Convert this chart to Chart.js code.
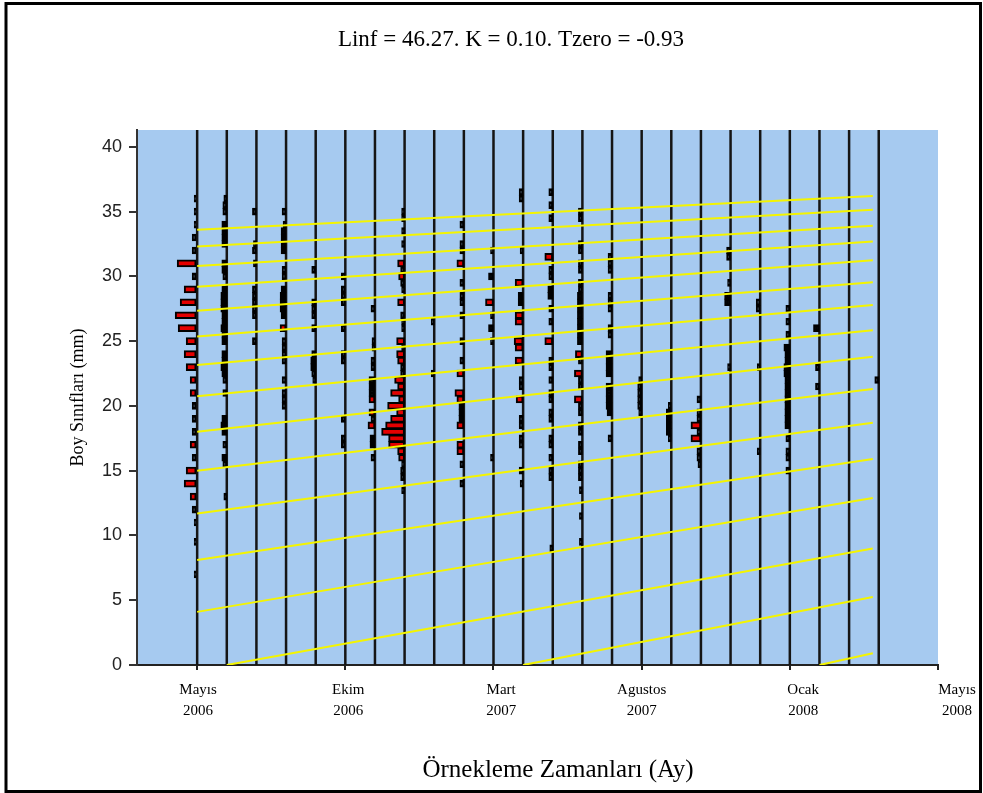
<!DOCTYPE html>
<html>
<head>
<meta charset="utf-8">
<script src="https://cdn.jsdelivr.net/npm/chart.js@4.4.1/dist/chart.umd.min.js"></script>
<style>
  html, body { margin: 0; padding: 0; background: #fff; }
</style>
</head>
<body>
<canvas id="chart" width="983" height="793"></canvas>
<script>
// örnekleme ayları: Mayıs 2006 = 0 ... Nisan 2008 = 23
const sampleMonths = [0, 1, 2, 3, 4, 5, 6, 7, 8, 9, 10, 11, 12, 13, 14, 15, 16, 17, 18, 19, 20, 21, 22, 23];

// [boy sınıfı (mm), skor] ; skor > 0 kırmızı, skor < 0 siyah
const may06 = [[36,-0.15],[35,-0.15],[34,-0.15],[33,-0.25],[32,-0.25],[31,1.0],[30,-0.25],[29,0.65],[28,0.85],[27,1.1],[26,0.95],[25,0.55],[24,0.65],[23,0.55],[22,0.35],[21,0.35],[20,-0.25],[19,-0.25],[18,-0.25],[17,0.35],[16,-0.25],[15,0.55],[14,0.65],[13,0.35],[12,-0.25],[11,-0.15],[9.5,-0.15],[7,-0.15]];
const jun06 = [[36,-0.15],[35.5,-0.2],[35,-0.2],[34,-0.25],[33.5,-0.25],[33,-0.25],[32.5,-0.25],[31,-0.25],[30.5,-0.25],[30,-0.2],[29,-0.25],[28.5,-0.3],[28,-0.3],[27.5,-0.3],[27,-0.25],[26.5,-0.25],[26,-0.3],[25.5,-0.25],[25,-0.25],[24,-0.25],[23.5,-0.25],[23,-0.3],[22.5,-0.25],[22,-0.2],[21,-0.2],[19,-0.25],[18.5,-0.3],[18,-0.25],[17,-0.2],[16,-0.25],[15.5,-0.2],[13,-0.15]];
const jul06 = [[35,-0.2],[32.5,-0.15],[32,-0.2],[31,-0.15],[29,-0.2],[28.5,-0.2],[28,-0.2],[27.5,-0.2],[27,-0.2],[25,-0.2]];
const aug06 = [[35,-0.2],[34,-0.15],[33.5,-0.25],[33,-0.25],[32.5,-0.25],[32,-0.25],[30.5,-0.2],[30,-0.2],[29,-0.25],[28.5,-0.3],[28,-0.3],[27.5,-0.3],[27,-0.25],[26,0.3],[25,-0.2],[24.5,-0.2],[24,-0.2],[23.5,-0.2],[22,-0.2],[21,-0.2],[20.5,-0.2],[20,-0.2]];
const sep06 = [[30.5,-0.2],[28,-0.2],[27.5,-0.2],[27,-0.2],[26,-0.2],[24,-0.2],[23.5,-0.25],[23,-0.25],[22.5,-0.2],[22,-0.15]];
const oct06 = [[30,-0.2],[29,-0.2],[28.5,-0.2],[28,-0.2],[26,-0.2],[24,-0.2],[23.5,-0.2],[19,-0.2],[17.5,-0.2],[17,-0.2]];
const nov06 = [[27.5,-0.2],[25,-0.15],[24.5,-0.15],[23.5,-0.2],[23,-0.2],[22,-0.3],[21.5,-0.3],[21,-0.3],[20.5,0.3],[19.5,0.3],[19,-0.2],[18.5,0.35],[17.5,-0.25],[17,-0.25],[16,-0.2]];
const dec06 = [[35,-0.15],[34.5,-0.15],[33.5,-0.15],[32.5,-0.15],[31,0.35],[30.5,-0.2],[30,0.3],[29.5,-0.2],[29,-0.15],[28,0.35],[27,-0.2],[26.5,-0.15],[26,-0.15],[25,0.4],[24.5,-0.15],[24,0.4],[23.5,0.35],[23,-0.2],[22.5,-0.2],[22,0.5],[21.5,0.35],[21,0.7],[20.5,0.3],[20,0.85],[19.5,0.4],[19,0.7],[18.5,0.95],[18,1.15],[17.5,0.8],[17,0.8],[16.5,0.35],[16,0.3],[15.5,-0.15],[15,-0.2],[14.5,-0.2],[13.5,-0.15]];
const jan07 = [[26.5,-0.15],[22.5,-0.15]];
const feb07 = [[34,-0.2],[32.5,-0.2],[32,-0.2],[31,0.35],[29.5,-0.2],[28.5,-0.2],[28,-0.2],[27,-0.2],[25,-0.2],[23.5,-0.2],[22.5,0.35],[21,0.45],[20.5,0.35],[20,-0.25],[19.5,-0.25],[19,-0.25],[18.5,0.35],[17,0.35],[16.5,0.35],[15.5,-0.2],[14,-0.2]];
const mar07 = [[32,-0.15],[30,-0.25],[28,0.4],[27,-0.15],[26,-0.25],[25,-0.15],[16,-0.15]];
const apr07 = [[36.5,-0.2],[36,-0.2],[32,-0.15],[29.5,0.4],[28.5,-0.25],[28,-0.25],[27,0.4],[26.5,0.4],[25,0.45],[24.5,0.4],[23.5,0.4],[22,-0.2],[21.5,-0.2],[20.5,0.35],[19,-0.2],[18.5,-0.2],[17.5,-0.2],[17,-0.2],[15,-0.2],[14,-0.15]];
const may07 = [[36.5,-0.2],[35.5,-0.2],[34.5,-0.2],[31.5,0.4],[30.5,-0.2],[30,-0.2],[29,-0.25],[28.5,-0.25],[27.5,-0.2],[26.5,-0.2],[25,0.4],[23.5,-0.2],[23,-0.2],[22,-0.2],[21,-0.2],[20.5,-0.2],[19.5,-0.2],[19,-0.2],[17.5,-0.2],[17,-0.2],[16,-0.2],[15,-0.2],[14.5,-0.2],[9,-0.15]];
const jun07 = [[35,-0.2],[34.5,-0.2],[32.5,-0.2],[32,-0.2],[31,-0.2],[30.5,-0.2],[29.5,-0.2],[29,-0.2],[28.5,-0.25],[28,-0.25],[27.5,-0.25],[27,-0.25],[26.5,-0.25],[26,-0.25],[25.5,-0.25],[25,-0.25],[24,0.35],[23.5,-0.2],[22.5,0.4],[22,-0.2],[21.5,-0.2],[20.5,0.4],[20,-0.2],[19.5,-0.2],[18.5,-0.2],[18,-0.2],[17,-0.2],[16.5,-0.2],[15.5,-0.2],[15,-0.2],[14.5,-0.2],[13.5,-0.15],[11.5,-0.15],[9.5,-0.15]];
const jul07 = [[31.5,-0.2],[31,-0.2],[30.5,-0.2],[28.5,-0.2],[28,-0.2],[27.5,-0.2],[26,-0.2],[25.5,-0.2],[24,-0.3],[23.5,-0.3],[23,-0.3],[22.5,-0.3],[21.5,-0.3],[21,-0.3],[20.5,-0.3],[20,-0.3],[19.5,-0.25],[17.5,-0.2]];
const aug07 = [[22,-0.15],[21.5,-0.2],[21,-0.2],[20.5,-0.2],[20,-0.2],[19.5,-0.15]];
const sep07 = [[20,-0.15],[19.5,-0.25],[19,-0.25],[18.5,-0.25],[18,-0.25],[17.5,-0.15]];
const oct07 = [[20.5,-0.2],[19.5,-0.2],[19,-0.2],[18.5,0.5],[18,-0.2],[17.5,0.5],[16.5,-0.2],[16,-0.2],[15.5,-0.15]];
const nov07 = [[32,-0.2],[31.5,-0.2],[29.5,-0.15],[28.5,-0.3],[28,-0.3],[23,-0.15]];
const dec07 = [[28,-0.2],[27.5,-0.2],[23,-0.15],[16.5,-0.15]];
const jan08 = [[27.5,-0.2],[26.5,-0.2],[25.5,-0.2],[24.5,-0.3],[24,-0.25],[23.5,-0.25],[23,-0.3],[22.5,-0.3],[22,-0.25],[21.5,-0.25],[21,-0.25],[20.5,-0.25],[20,-0.25],[19.5,-0.25],[19,-0.25],[18.5,-0.25],[17.5,-0.2],[16.5,-0.2],[16,-0.2],[15,-0.2]];
const feb08 = [[26,-0.3],[23,-0.2],[21.5,-0.2]];
const mar08 = [];
const apr08 = [[22,-0.2]];

const samples = [may06, jun06, jul06, aug06, sep06, oct06, nov06, dec06, jan07, feb07, mar07, apr07,
                 may07, jun07, jul07, aug07, sep07, oct07, nov07, dec07, jan08, feb08, mar08, apr08];

// büyüme eğrileri (başlangıç ve bitiş boyları)
const curveStartMonth = [0, 0, 0, 0, 0, 0, 0, 0, 0, 0, 0, 0, 0, 1, 11, 21];
const curveStartLen = [33.6, 32.3, 30.8, 29.2, 27.35, 25.35, 23.15, 20.75, 18.0, 15.0, 11.7, 8.1, 4.1, 0, 0, 0];
const curveEndMonth = 22.8;
const curveEndLen = [36.2, 35.15, 33.9, 32.7, 31.25, 29.55, 27.8, 25.85, 23.8, 21.3, 18.7, 15.9, 12.9, 9.0, 5.25, 0.9];

const yTicks = [0, 5, 10, 15, 20, 25, 30, 35, 40];
const xTickMonths = [0, 5, 10, 15, 20, 25];
const xTickLabels = [['Mayıs', '2006'], ['Ekim', '2006'], ['Mart', '2007'], ['Agustos', '2007'], ['Ocak', '2008'], ['Mayıs', '2008']];

const titleText = 'Linf = 46.27. K = 0.10. Tzero = -0.93';
const xTitleText = 'Örnekleme Zamanları (Ay)';
const yTitleText = 'Boy Sınıfları (mm)';

const xMin = -2.03, xMax = 25, yMax = 41.3;
const barScale = 0.675;   // skor 1 -> ay cinsinden çubuk uzunluğu
const labelShift = [0.03, 0.1, 0.26, 0, 0.45, 0.64];   // etiketlerin tik çizgisine göre kayması (ay)
const serif = '"Liberation Serif", "Times New Roman", serif';

// histogram çubukları
const barData = [];
samples.forEach((rows, i) => {
  const m = sampleMonths[i];
  rows.forEach(([len, s]) => {
    barData.push({ y: len, x: [m - Math.abs(s) * barScale, m], s: s });
  });
});

// örnekleme çizgileri
const sampleLines = [];
sampleMonths.forEach(m => {
  sampleLines.push({ x: m, y: 0 }, { x: m, y: yMax }, { x: m, y: null });
});

// büyüme eğrileri
const growthLines = [];
curveStartLen.forEach((l0, k) => {
  growthLines.push({ x: curveStartMonth[k], y: l0 }, { x: curveEndMonth, y: curveEndLen[k] }, { x: curveEndMonth, y: null });
});

const decor = {
  id: 'decor',
  beforeDraw(chart) {
    const { ctx, chartArea: a } = chart;
    ctx.save();
    ctx.fillStyle = '#fff';
    ctx.fillRect(0, 0, chart.width, chart.height);
    ctx.fillStyle = '#a6caf0';
    ctx.fillRect(a.left, a.top, a.right - a.left, a.bottom - a.top);
    ctx.restore();
  },
  afterDraw(chart) {
    const ctx = chart.ctx;
    const xs = chart.scales.x;
    ctx.save();
    ctx.fillStyle = '#000';
    ctx.textAlign = 'center';
    ctx.textBaseline = 'middle';
    ctx.font = '15px ' + serif;
    xTickMonths.forEach((m, i) => {
      const px = xs.getPixelForValue(m + labelShift[i]);
      ctx.fillText(xTickLabels[i][0], px, 690);
      ctx.fillText(xTickLabels[i][1], px, 711);
    });
    ctx.font = '23px ' + serif;
    ctx.fillText(titleText, 511, 40);
    ctx.font = '25px ' + serif;
    ctx.fillText(xTitleText, 558, 770);
    ctx.strokeStyle = '#000';
    ctx.lineWidth = 3;
    ctx.strokeRect(6, 3.5, 974.5, 788);
    ctx.restore();
  }
};

new Chart(document.getElementById('chart'), {
  type: 'bar',
  data: {
    datasets: [
      {
        type: 'line',
        data: sampleLines,
        borderColor: '#151515',
        borderWidth: 2.5,
        pointRadius: 0,
        order: 3
      },
      {
        type: 'bar',
        indexAxis: 'y',
        data: barData,
        barThickness: 7,
        borderWidth: 2,
        borderColor: '#000',
        borderSkipped: false,
        backgroundColor: c => (c.raw && c.raw.s > 0 ? '#e40000' : '#000'),
        order: 2
      },
      {
        type: 'line',
        data: growthLines,
        borderColor: '#f4f400',
        borderWidth: 2,
        pointRadius: 0,
        order: 1
      }
    ]
  },
  options: {
    responsive: false,
    devicePixelRatio: 1,
    animation: false,
    layout: { padding: { left: 0, right: 45, top: 130, bottom: 0 } },
    plugins: {
      legend: { display: false },
      tooltip: { enabled: false },
      title: { display: false }
    },
    scales: {
      x: {
        type: 'linear',
        min: xMin,
        max: xMax,
        offset: false,
        afterBuildTicks: s => { s.ticks = xTickMonths.map(v => ({ value: v })); },
        afterFit: s => { s.height = 128; },
        ticks: { display: false },
        grid: { offset: false, drawOnChartArea: false, tickLength: 5, color: '#222', lineWidth: 2 },
        border: { display: true, color: '#222', width: 2 }
      },
      y: {
        type: 'linear',
        min: 0,
        max: yMax,
        offset: false,
        afterBuildTicks: s => { s.ticks = yTicks.map(v => ({ value: v })); },
        afterFit: s => { s.width = 137; },
        ticks: {
          padding: 7,
          color: '#222',
          font: { family: '"Liberation Sans", Arial, sans-serif', size: 18 }
        },
        grid: { offset: false, drawOnChartArea: false, tickLength: 8, color: '#333', lineWidth: 2 },
        border: { display: true, color: '#333', width: 2 },
        title: {
          display: true,
          text: yTitleText,
          color: '#000',
          font: { family: serif, size: 18 },
          padding: { top: 67, bottom: 0 }
        }
      }
    }
  },
  plugins: [decor]
});
</script>
</body>
</html>
